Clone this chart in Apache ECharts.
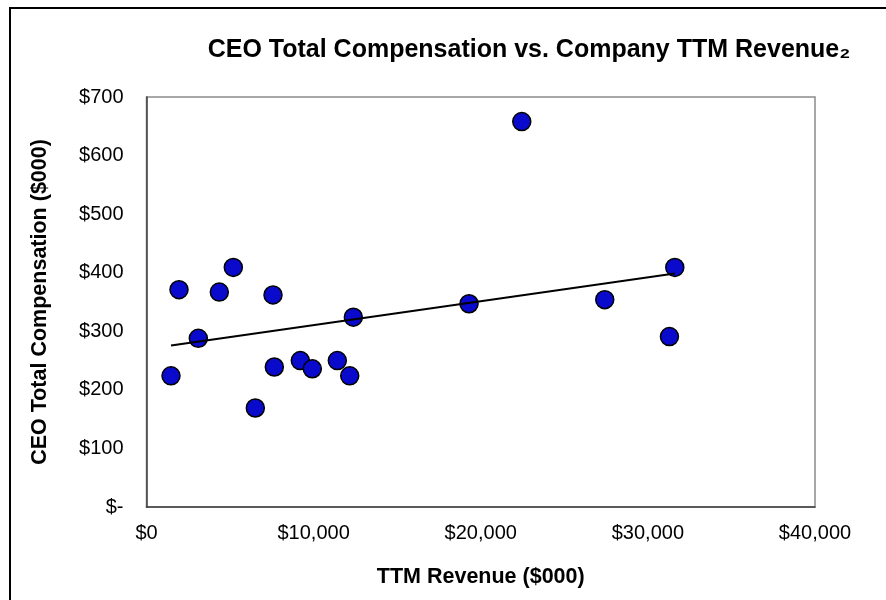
<!DOCTYPE html>
<html>
<head>
<meta charset="utf-8">
<script src="https://cdn.jsdelivr.net/npm/echarts@6/dist/echarts.min.js"></script>
<style>
  html, body { margin: 0; padding: 0; background: #ffffff; }
  #chart { width: 886px; height: 600px; }
</style>
</head>
<body>
<div id="chart"></div>
<script>
// TTM revenue ($000) and CEO total compensation ($000)
const revenue = [1466, 1945, 3100, 4357, 5194, 6511, 7570, 7648, 9204, 9922, 11418, 12160, 12376, 19300, 22454, 27420, 31290, 31610];
const compensation = [224, 371, 288, 367, 409, 169, 362, 239, 250, 236, 250, 224, 324, 347, 658, 354, 291, 409];
const yTicks = [0, 100, 200, 300, 400, 500, 600, 700];
const xTicks = [0, 10000, 20000, 30000, 40000];

const points = revenue.map((x, i) => [x, compensation[i]]);

// Linear (least squares) trendline, drawn from min to max revenue like the spreadsheet trendline
const n = revenue.length;
const mx = revenue.reduce((a, b) => a + b, 0) / n;
const my = compensation.reduce((a, b) => a + b, 0) / n;
let sxy = 0, sxx = 0;
for (let i = 0; i < n; i++) {
  sxy += (revenue[i] - mx) * (compensation[i] - my);
  sxx += (revenue[i] - mx) * (revenue[i] - mx);
}
const slope = sxy / sxx;
const intercept = my - slope * mx;
const xMin = Math.min(...revenue), xMax = Math.max(...revenue);
const trend = [[xMin, intercept + slope * xMin], [xMax, intercept + slope * xMax]];

const FONT = '"Liberation Sans", Arial, sans-serif';
const chart = echarts.init(document.getElementById('chart'), null, { renderer: 'canvas' });

chart.setOption({
  backgroundColor: '#ffffff',
  animation: false,
  title: {
    text: 'CEO Total Compensation vs. Company TTM Revenue\u2082',
    left: 524,
    top: 33,
    textAlign: 'center',
    textStyle: { fontFamily: FONT, fontSize: 25, fontWeight: 'bold', color: '#000000' }
  },
  graphic: [{
    type: 'rect',
    shape: { x: 10, y: 8, width: 900, height: 620 },
    style: { fill: 'none', stroke: '#000000', lineWidth: 2 },
    silent: true,
    z: 100
  }],
  grid: { left: 146.5, right: 71, top: 97, bottom: 93, show: true, borderColor: '#8c8c8c', borderWidth: 1.5, backgroundColor: 'transparent' },
  xAxis: {
    type: 'value',
    min: xTicks[0],
    max: xTicks[xTicks.length - 1],
    interval: 10000,
    name: 'TTM Revenue ($000)',
    nameLocation: 'middle',
    nameGap: 59,
    nameTextStyle: { fontFamily: FONT, fontSize: 21.5, fontWeight: 'bold', color: '#000000' },
    axisLine: { show: true, lineStyle: { color: '#404040', width: 1.5 } },
    axisTick: { show: false },
    splitLine: { show: false },
    axisLabel: {
      margin: 16,
      fontFamily: FONT, fontSize: 20, color: '#000000',
      formatter: v => '$' + v.toLocaleString('en-US')
    }
  },
  yAxis: {
    type: 'value',
    min: yTicks[0],
    max: yTicks[yTicks.length - 1],
    interval: 100,
    name: 'CEO Total Compensation ($000)',
    nameLocation: 'middle',
    nameGap: 95,
    nameTextStyle: { fontFamily: FONT, fontSize: 21.5, fontWeight: 'bold', color: '#000000' },
    axisLine: { show: true, lineStyle: { color: '#404040', width: 1.5 } },
    axisTick: { show: false },
    splitLine: { show: false },
    axisLabel: {
      margin: 23,
      fontFamily: FONT, fontSize: 20, color: '#000000',
      formatter: v => v === 0 ? '$-' : '$' + v
    }
  },
  series: [
    {
      type: 'scatter',
      data: points,
      symbol: 'circle',
      symbolSize: 18,
      itemStyle: { color: '#0a0acc', borderColor: '#000000', borderWidth: 1.5, opacity: 1 },
      z: 3
    },
    {
      type: 'line',
      data: trend,
      symbol: 'none',
      lineStyle: { color: '#000000', width: 2 },
      z: 4
    }
  ]
});
</script>
</body>
</html>
